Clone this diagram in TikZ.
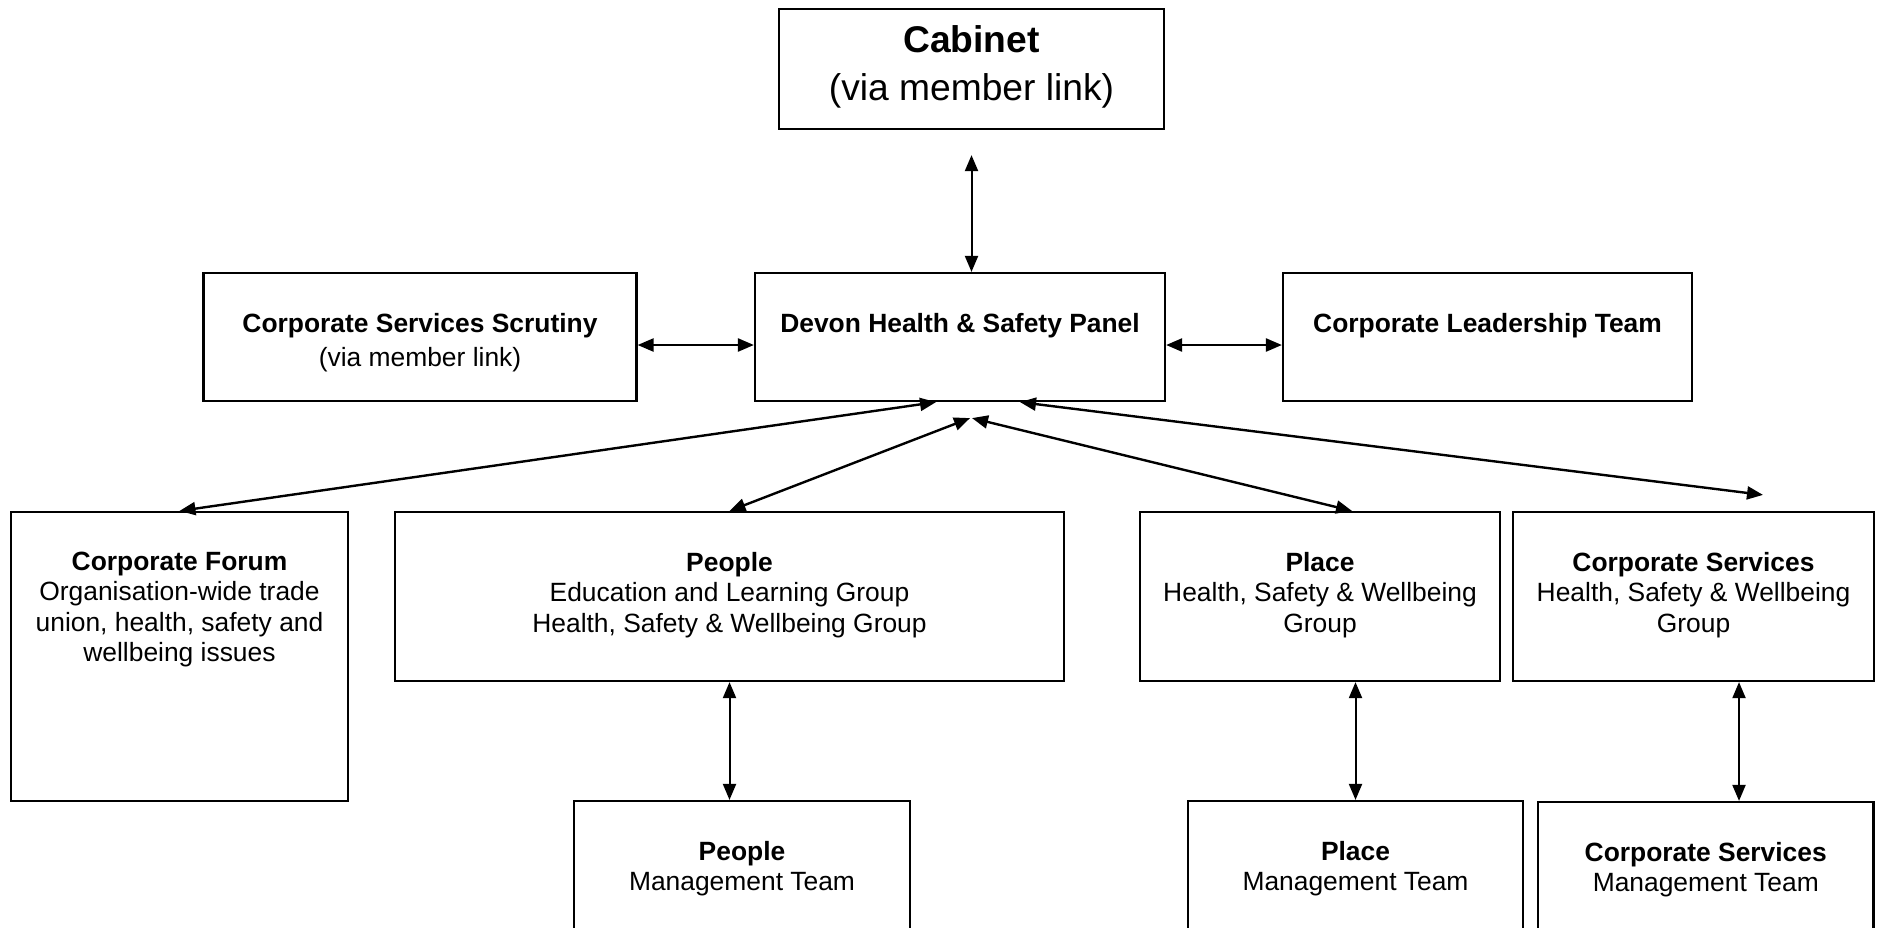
\documentclass[tikz,border=0pt]{standalone}
\usepackage{fontspec}
\setmainfont{Liberation Sans}
\usetikzlibrary{arrows.meta, positioning}

\tikzset{
  box/.style={draw, line width=1.1pt, inner sep=0pt},
  txt/.style={anchor=north, yshift=-20.4pt, inner sep=0pt, align=center, font=\fontsize{13.2}{15.2}\selectfont},
  bigtxt/.style={txt, yshift=11.9pt, font=\fontsize{18.6}{24}\selectfont},
  link/.style={{Triangle[length=8pt,width=6.5pt]}-{Triangle[length=8pt,width=6.5pt]}, line width=1.2pt},
  thinlink/.style={link, line width=1pt},
}

\begin{document}
\begin{tikzpicture}[x=0.5pt,y=-0.5pt]
\useasboundingbox (0,0) rectangle (1877,927);

% top row
\node[box, minimum width=192.5pt, minimum height=60pt, label={[bigtxt]north:{\textbf{Cabinet}\\(via member link)}}] (cab) at (971.5,69) {};
\node[box, minimum width=216.5pt, minimum height=64pt, label={[txt]north:{\textbf{Corporate Services Scrutiny}\\[2pt](via member link)}}] (scr) at (420,337) {};
\node[box, minimum width=205pt, minimum height=64pt, label={[txt]north:{\textbf{Devon Health \& Safety Panel}}}] (panel) at (960,337) {};
\node[box, minimum width=204.5pt, minimum height=64pt, label={[txt]north:{\textbf{Corporate Leadership Team}}}] (clt) at (1487.5,337) {};

% groups
\node[box, minimum width=168.5pt, minimum height=144.5pt, label={[txt]north:{\textbf{Corporate Forum}\\Organisation-wide trade\\union, health, safety and\\wellbeing issues}}] (forum) at (179.5,656.5) {};
\node[box, minimum width=334.5pt, minimum height=84.5pt, label={[txt]north:{\textbf{People}\\Education and Learning Group\\Health, Safety \& Wellbeing Group}}] (people) at (729.5,596.5) {};
\node[box, minimum width=180pt, minimum height=84.5pt, label={[txt]north:{\textbf{Place}\\Health, Safety \& Wellbeing\\Group}}] (place) at (1320,596.5) {};
\node[box, minimum width=180.5pt, minimum height=84.5pt, label={[txt]north:{\textbf{Corporate Services}\\Health, Safety \& Wellbeing\\Group}}] (corp) at (1693.5,596.5) {};

% management teams
\node[box, minimum width=168pt, minimum height=80pt, label={[txt]north:{\textbf{People}\\Management Team}}] (peoplemt) at (742,881) {};
\node[box, minimum width=167.5pt, minimum height=80pt, label={[txt]north:{\textbf{Place}\\Management Team}}] (placemt) at (1355.5,881) {};
\node[box, minimum width=167.75pt, minimum height=80pt, label={[txt]north:{\textbf{Corporate Services}\\Management Team}}] (corpmt) at (1705.75,882) {};

\coordinate[above=8pt of corp.north, xshift=34.75pt] (corpend);

\draw[thinlink] ([yshift=-12.5pt]cab.south) -- (panel.north -| cab.south);
\draw[link] ([yshift=-4pt]scr.east) -- ([yshift=-4pt]panel.west);
\draw[link] ([yshift=-4pt]panel.east) -- ([yshift=-4pt]clt.west);
\draw[link] ([xshift=-12pt]panel.south) -- (forum.north);
\draw[link] ([xshift=5pt,yshift=-8pt]panel.south) -- (people.north);
\draw[link] ([xshift=6pt,yshift=-8pt]panel.south) -- ([xshift=16pt]place.north);
\draw[link] ([xshift=30pt]panel.south) -- (corpend);
\draw[thinlink] (people.south) -- (people.south |- peoplemt.north);
\draw[thinlink] (placemt.north |- place.south) -- (placemt.north);
\draw[thinlink] ([xshift=22.75pt]corp.south) -- ([xshift=22.75pt]corp.south |- corpmt.north);

\end{tikzpicture}
\end{document}
